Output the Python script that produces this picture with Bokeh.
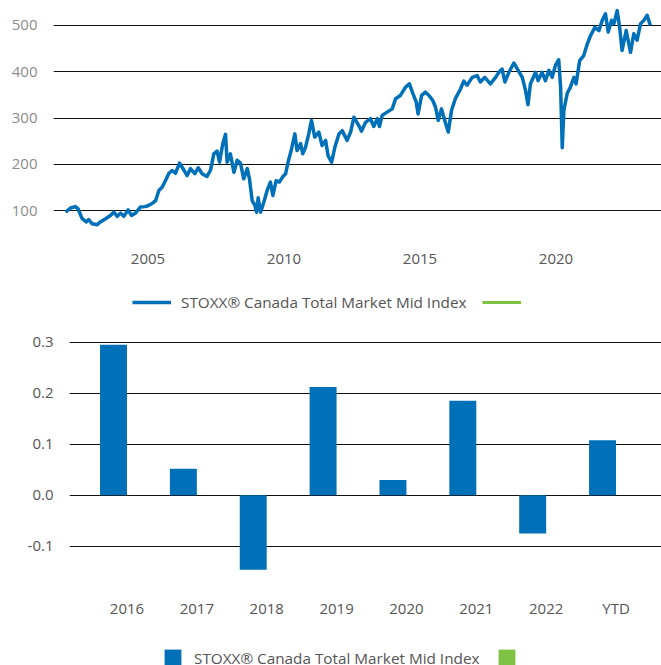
from bokeh.plotting import figure
from bokeh.models import (Range1d, FixedTicker, Legend, LegendItem, Spacer,
                          ColumnDataSource, NumeralTickFormatter)
from bokeh.transform import dodge
from bokeh.layouts import column, row
from bokeh.embed import file_html
from bokeh.resources import INLINE

# ---------------- data ----------------
series_name = "STOXX® Canada Total Market Mid Index"

years = [
    2001.97, 2002.15, 2002.33, 2002.43, 2002.58, 2002.73, 2002.82, 2002.95, 2003.13, 2003.25,
    2003.44, 2003.62, 2003.74, 2003.87, 2003.99, 2004.11, 2004.27, 2004.39, 2004.54, 2004.72,
    2004.88, 2005.0, 2005.18, 2005.28, 2005.4, 2005.52, 2005.64, 2005.77, 2005.89, 2006.01,
    2006.16, 2006.32, 2006.44, 2006.56, 2006.72, 2006.85, 2006.99, 2007.17, 2007.3, 2007.42,
    2007.54, 2007.63, 2007.75, 2007.85, 2007.91, 2008.03, 2008.16, 2008.28, 2008.4, 2008.52,
    2008.65, 2008.73, 2008.83, 2008.93, 2008.99, 2009.05, 2009.14, 2009.26, 2009.38, 2009.5,
    2009.59, 2009.71, 2009.83, 2009.96, 2010.06, 2010.15, 2010.28, 2010.4, 2010.48, 2010.61,
    2010.69, 2010.79, 2010.91, 2011.01, 2011.13, 2011.28, 2011.4, 2011.53, 2011.62, 2011.75,
    2011.87, 2012.02, 2012.14, 2012.32, 2012.45, 2012.57, 2012.75, 2012.85, 2013.0, 2013.18,
    2013.3, 2013.43, 2013.51, 2013.61, 2013.79, 2013.98, 2014.1, 2014.28, 2014.47, 2014.61,
    2014.74, 2014.86, 2014.93, 2015.06, 2015.2, 2015.33, 2015.47, 2015.57, 2015.67, 2015.79,
    2015.91, 2016.04, 2016.16, 2016.3, 2016.49, 2016.61, 2016.73, 2016.92, 2017.1, 2017.22,
    2017.38, 2017.59, 2017.78, 2017.9, 2018.02, 2018.12, 2018.27, 2018.45, 2018.61, 2018.76,
    2018.88, 2018.97, 2019.06, 2019.25, 2019.34, 2019.49, 2019.61, 2019.74, 2019.86, 2019.98,
    2020.1, 2020.17, 2020.23, 2020.29, 2020.41, 2020.53, 2020.66, 2020.74, 2020.87, 2021.02,
    2021.15, 2021.27, 2021.43, 2021.58, 2021.7, 2021.82, 2021.92, 2022.04, 2022.13, 2022.25,
    2022.34, 2022.43, 2022.58, 2022.74, 2022.86, 2022.98, 2023.11, 2023.23, 2023.35, 2023.47,
]
index_values = [
    97, 106, 109, 104, 83, 76, 81, 72, 70, 76,
    83, 90, 97, 88, 95, 88, 102, 90, 95, 108,
    109, 111, 117, 122, 144, 151, 165, 181, 187, 181,
    203, 188, 176, 191, 180, 193, 180, 174, 188, 223,
    229, 205, 245, 265, 205, 223, 183, 209, 203, 169,
    191, 169, 122, 112, 97, 128, 97, 119, 144, 162,
    133, 165, 162, 174, 180, 205, 234, 266, 230, 245,
    223, 237, 266, 295, 259, 270, 241, 252, 219, 205,
    237, 266, 273, 252, 270, 302, 284, 272, 291, 299,
    282, 299, 282, 306, 313, 320, 342, 349, 367, 374,
    353, 335, 309, 349, 356, 349, 338, 324, 295, 320,
    295, 270, 317, 342, 363, 380, 371, 388, 392, 378,
    388, 374, 388, 399, 406, 378, 399, 419, 403, 388,
    360, 329, 374, 399, 381, 399, 381, 403, 388, 414,
    426, 367, 236, 317, 353, 367, 388, 374, 424, 435,
    460, 478, 496, 489, 511, 525, 486, 511, 504, 532,
    496, 446, 489, 442, 482, 468, 504, 511, 522, 500,
]
# the second legend series carries no observations in the source chart
empty_years = [2002.0]
empty_values = [float("nan")]

year_ticks = [2005, 2010, 2015, 2020]
level_ticks = [100, 200, 300, 400, 500]

bar_categories = ["2016", "2017", "2018", "2019", "2020", "2021", "2022", "YTD"]
bar_returns = [0.295, 0.052, -0.146, 0.212, 0.030, 0.185, -0.075, 0.108]
empty_returns = [float("nan")]
return_ticks = [-0.1, 0.0, 0.1, 0.2, 0.3]

# ---------------- style ----------------
BLUE = "#0070b8"
GREEN = "#7dc242"
FONT = "Open Sans"
TXT = "#555555"
LIGHT = "#8c8c8c"
FS = "15px"
LFS = "15.3px"


def style(p, ylab_color):
    p.outline_line_color = None
    p.background_fill_color = "white"
    p.border_fill_color = "white"
    for ax in (p.xaxis[0], p.yaxis[0]):
        ax.axis_line_color = None
        ax.major_tick_line_color = None
        ax.minor_tick_line_color = None
        ax.major_tick_out = 0
        ax.major_tick_in = 0
        ax.minor_tick_out = 0
        ax.minor_tick_in = 0
        ax.major_label_text_font = FONT
        ax.major_label_text_font_size = FS
        ax.major_label_text_color = TXT
    p.yaxis[0].major_label_text_color = ylab_color
    p.yaxis[0].major_label_standoff = 16
    p.xgrid.visible = False
    p.ygrid.grid_line_color = "#111111"
    p.ygrid.grid_line_width = 1


def make_legend(renderers, loc, glyph_w, glyph_h, standoff, spacing):
    return Legend(items=[LegendItem(label=series_name, renderers=[renderers[0]]),
                         LegendItem(label=" ", renderers=[renderers[1]])],
                  orientation="horizontal", location=loc,
                  padding=0, margin=0, spacing=spacing, label_standoff=standoff,
                  glyph_width=glyph_w, glyph_height=glyph_h, label_height=glyph_h,
                  border_line_color=None, background_fill_alpha=0,
                  label_text_font=FONT, label_text_font_size=LFS,
                  label_text_color=TXT)


# ---------------- top: index level ----------------
# frame spans the whole figure height; x axis is pinned at the chart floor
top = figure(width=661, height=331,
             output_backend="svg", toolbar_location=None,
             x_range=Range1d(2001.526, 2023.879), y_range=Range1d(-160.5, 553.9),
             min_border_left=53, min_border_right=0, min_border_top=0,
             min_border_bottom=0)
style(top, LIGHT)
top.xaxis.ticker = FixedTicker(ticks=year_ticks)
top.yaxis.ticker = FixedTicker(ticks=level_ticks)
top.xaxis.fixed_location = 35.9
top.xaxis.major_label_standoff = 13

r_main = top.line(years, index_values, line_color=BLUE, line_width=3.5,
                  line_join="round")
r_other = top.line(empty_years, empty_values, line_color=GREEN, line_width=3)
top.add_layout(make_legend([r_main, r_other], (79, 19), 39, 20, 10, 16))

# ---------------- bottom: yearly returns ----------------
src = ColumnDataSource(dict(pos=list(range(len(bar_categories))), ret=bar_returns))

bottom = figure(width=645, height=334,
                output_backend="svg", toolbar_location=None,
                x_range=Range1d(-0.823, 7.651), y_range=Range1d(-0.3339, 0.321),
                min_border_left=53, min_border_right=0, min_border_top=0,
                min_border_bottom=0)
style(bottom, TXT)
bottom.xaxis.ticker = FixedTicker(ticks=list(range(len(bar_categories))))
bottom.xaxis.major_label_overrides = {i: c for i, c in enumerate(bar_categories)}
bottom.xaxis.fixed_location = -0.1927
bottom.xaxis.major_label_standoff = 5
bottom.yaxis.ticker = FixedTicker(ticks=return_ticks)
bottom.yaxis.formatter = NumeralTickFormatter(format="0.0")

r_bar = bottom.vbar(x=dodge("pos", -0.193), top="ret", bottom=0, width=0.386,
                    source=src, fill_color=BLUE, line_color=None)
r_bar2 = bottom.vbar(x=[0], top=empty_returns, bottom=0, width=0.386,
                     fill_color=GREEN, line_color=None)
bottom.add_layout(make_legend([r_bar, r_bar2], (93, -3), 21, 21, 11, 17))

layout = column(top, row(Spacer(width=16, height=334), bottom, spacing=0), spacing=0)
open("out.html", "w").write(file_html(layout, INLINE))
